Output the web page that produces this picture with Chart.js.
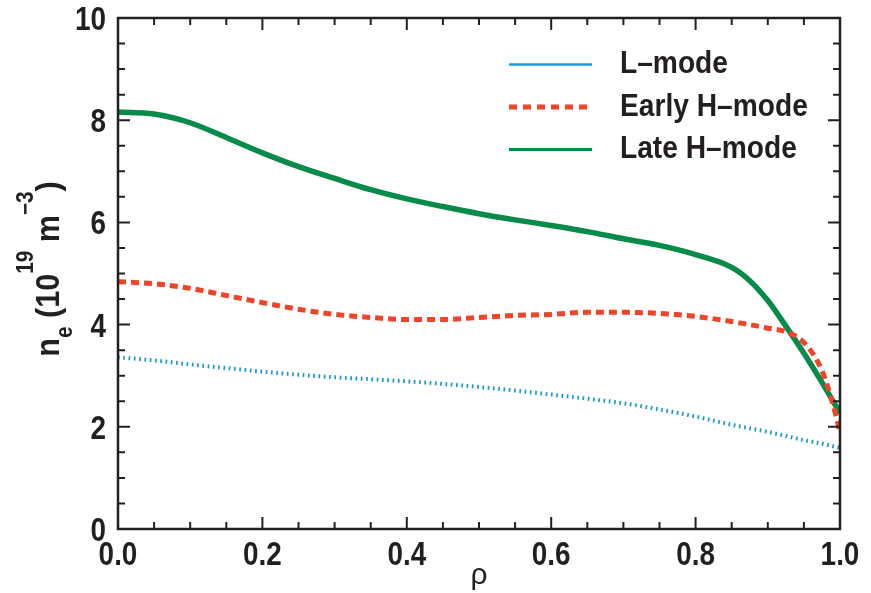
<!DOCTYPE html>
<html>
<head>
<meta charset="utf-8">
<script src="https://cdn.jsdelivr.net/npm/chart.js@4/dist/chart.umd.min.js"></script>
<style>
  html, body { margin: 0; padding: 0; background: #fff; }
  canvas { display: block; }
</style>
</head>
<body>
<canvas id="neChart" width="871" height="593"></canvas>
<script>
// radial coordinate (rho) and density profiles, n_e in 10^19 m^-3
const rho = [0, 0.05, 0.1, 0.15, 0.2, 0.25, 0.3, 0.35, 0.4, 0.45, 0.5, 0.55, 0.6, 0.65, 0.7, 0.75, 0.8, 0.85, 0.875, 0.9, 0.925, 0.95, 0.975, 0.99, 1.0]
const lMode = [3.36, 3.3, 3.22, 3.15, 3.08, 3.02, 2.97, 2.93, 2.89, 2.84, 2.78, 2.71, 2.63, 2.55, 2.46, 2.34, 2.2, 2.04, 1.97, 1.9, 1.82, 1.74, 1.67, 1.62, 1.59]
const earlyH = [4.84, 4.8, 4.71, 4.57, 4.43, 4.3, 4.2, 4.14, 4.1, 4.1, 4.14, 4.18, 4.2, 4.24, 4.24, 4.22, 4.16, 4.06, 4.0, 3.93, 3.86, 3.65, 3.1, 2.45, 1.9]
const lateH = [8.16, 8.12, 7.95, 7.66, 7.36, 7.09, 6.86, 6.64, 6.46, 6.31, 6.17, 6.05, 5.94, 5.82, 5.68, 5.55, 5.37, 5.12, 4.86, 4.47, 3.97, 3.44, 2.87, 2.51, 2.27]

const seriesNames = ["L\u2013mode", "Early H\u2013mode", "Late H\u2013mode"]
const xTicks = [0, 0.2, 0.4, 0.6, 0.8, 1.0]
const yTicks = [0, 2, 4, 6, 8, 10]

const BLUE = "#1898d6"
const RED = "#ef4427"
const GREEN = "#078b4a"
const INK = "#231f20"
const SANS = '"Liberation Sans", Arial, sans-serif'

function pts(ys) {
    return rho.map((r, i) => ({ x: r, y: ys[i] }))
}

// text squeezed sideways, to look like the condensed face of the original
function squeezed(ctx, text, x, y, size, sx, align) {
    ctx.save()
    ctx.font = "bold " + size + "px " + SANS
    const w = ctx.measureText(text).width * sx
    let left = x
    if (align == "center") left = x - w / 2
    if (align == "right") left = x - w
    ctx.translate(left, y)
    ctx.scale(sx, 1)
    ctx.textAlign = "left"
    ctx.fillText(text, 0, 0)
    ctx.restore()
    return w
}

// box, inward ticks, tick labels, legend and axis titles
const framePlugin = {
    id: "frame",
    afterDraw(chart) {
        const ctx = chart.ctx
        const a = chart.chartArea
        const xs = chart.scales.x
        const ys = chart.scales.y
        ctx.save()
        ctx.strokeStyle = INK
        ctx.lineWidth = 2.5
        ctx.strokeRect(a.left, a.top, a.right - a.left, a.bottom - a.top)

        ctx.lineWidth = 2
        ctx.beginPath()
        for (let i = 0; i <= 20; i++) {
            const px = xs.getPixelForValue(i * 0.05)
            const len = i % 4 == 0 ? 12 : 7
            ctx.moveTo(px, a.bottom); ctx.lineTo(px, a.bottom - len)
            ctx.moveTo(px, a.top); ctx.lineTo(px, a.top + len)
        }
        for (let i = 0; i <= 20; i++) {
            const py = ys.getPixelForValue(i * 0.5)
            const len = i % 4 == 0 ? 12 : 7
            ctx.moveTo(a.left, py); ctx.lineTo(a.left + len, py)
            ctx.moveTo(a.right, py); ctx.lineTo(a.right - len, py)
        }
        ctx.stroke()

        ctx.fillStyle = INK
        ctx.textBaseline = "alphabetic"
        xTicks.forEach(v => {
            squeezed(ctx, v.toFixed(1), xs.getPixelForValue(v), a.bottom + 36, 34, 0.82, "center")
        })
        yTicks.forEach(v => {
            squeezed(ctx, String(v), a.left - 12, ys.getPixelForValue(v) + 12, 34, 0.82, "right")
        })

        // legend
        const styles = [
            { color: BLUE, width: 2.5, dash: [] },
            { color: RED, width: 5, dash: [8, 6] },
            { color: GREEN, width: 3, dash: [] },
        ]
        const baselines = [73, 115.5, 158]
        seriesNames.forEach((name, i) => {
            const s = styles[i]
            ctx.strokeStyle = s.color
            ctx.lineWidth = s.width
            ctx.setLineDash(s.dash)
            ctx.beginPath()
            ctx.moveTo(509, baselines[i] - 8.5)
            ctx.lineTo(592, baselines[i] - 8.5)
            ctx.stroke()
            ctx.setLineDash([])
            ctx.fillStyle = INK
            squeezed(ctx, name, 620, baselines[i], 32, 0.88, "left")
        })

        // x title
        ctx.font = "30px " + SANS
        ctx.textAlign = "center"
        ctx.fillText("\u03c1", (a.left + a.right) / 2, 584)

        // y title: n_e (10^19 m^-3)
        const parts = [
            { t: "n", size: 34, dy: 0 },
            { t: "e", size: 23, dy: 13 },
            { t: " (10", size: 34, dy: 0 },
            { t: "19", size: 23, dy: -26 },
            { t: " m", size: 34, dy: 0 },
            { t: "\u22123", size: 23, dy: -26 },
            { t: ")", size: 34, dy: 0 },
        ]
        const sx = 0.9
        let total = 0
        parts.forEach(p => {
            ctx.font = "bold " + p.size + "px " + SANS
            p.w = ctx.measureText(p.t).width * sx
            total += p.w
        })
        ctx.translate(59, 269)
        ctx.rotate(-Math.PI / 2)
        let cx = -total / 2
        parts.forEach(p => {
            squeezed(ctx, p.t, cx, p.dy, p.size, sx, "left")
            cx += p.w
        })
        ctx.restore()
    }
}

const ctx = document.getElementById("neChart").getContext("2d")
new Chart(ctx, {
    type: "line",
    data: {
        datasets: [
            {
                label: seriesNames[0],
                data: pts(lMode),
                borderColor: BLUE,
                borderWidth: 4,
                borderDash: [1.7, 3.6],
                pointRadius: 0,
                cubicInterpolationMode: "monotone",
            },
            {
                label: seriesNames[1],
                data: pts(earlyH),
                borderColor: RED,
                borderWidth: 5,
                borderDash: [8, 5],
                pointRadius: 0,
                cubicInterpolationMode: "monotone",
            },
            {
                label: seriesNames[2],
                data: pts(lateH),
                borderColor: GREEN,
                borderWidth: 5.5,
                pointRadius: 0,
                cubicInterpolationMode: "monotone",
            },
        ]
    },
    options: {
        responsive: false,
        animation: false,
        layout: { padding: { top: 18, right: 31, left: 0, bottom: 0 } },
        plugins: {
            legend: { display: false },
            tooltip: { enabled: false },
        },
        scales: {
            x: {
                type: "linear",
                min: 0,
                max: 1,
                afterBuildTicks: (s) => { s.ticks = xTicks.map(v => ({ value: v })) },
                afterFit: (s) => { s.height = 64 },
                grid: { display: false, drawTicks: false },
                border: { display: false },
                ticks: { display: false },
            },
            y: {
                min: 0,
                max: 10,
                afterBuildTicks: (s) => { s.ticks = yTicks.map(v => ({ value: v })) },
                afterFit: (s) => { s.width = 118 },
                grid: { display: false, drawTicks: false },
                border: { display: false },
                ticks: { display: false },
            },
        },
    },
    plugins: [framePlugin],
})
</script>
</body>
</html>
